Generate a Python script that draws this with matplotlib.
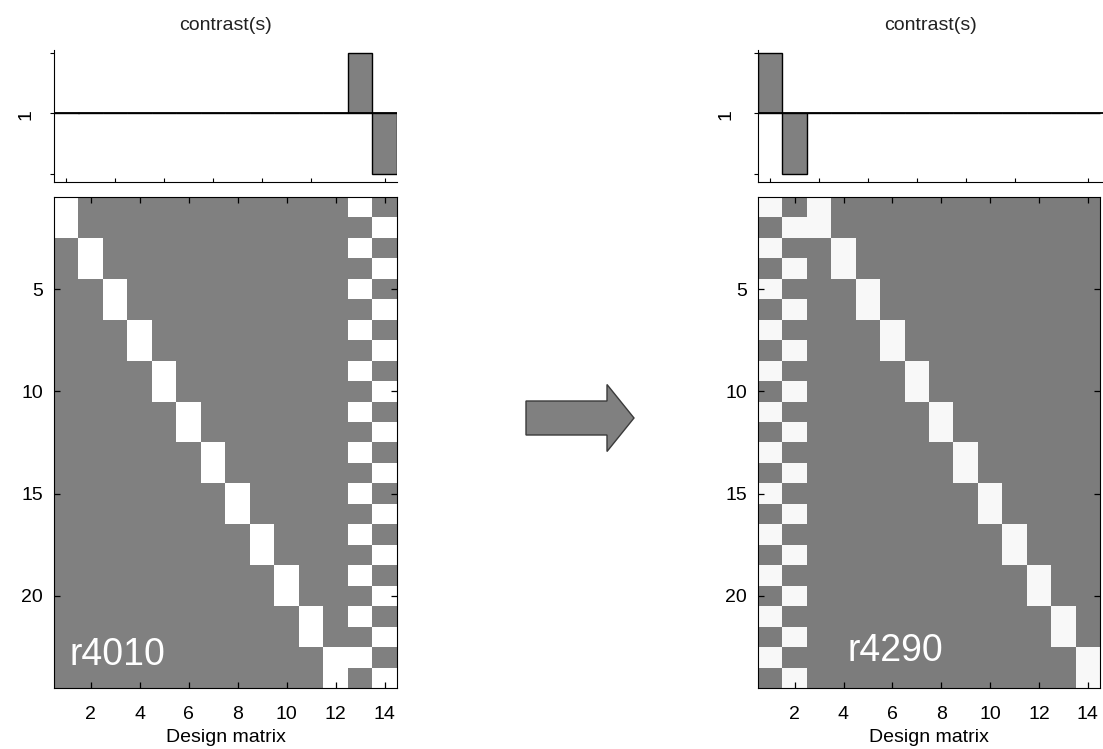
import numpy as np
import matplotlib
matplotlib.use("Agg")
import matplotlib.pyplot as plt
from matplotlib.patches import FancyArrow

plt.rcParams["font.family"] = ["Liberation Sans", "DejaVu Sans"]

# scans: 12 subjects x 2 conditions
scan_subject = [1, 1, 2, 2, 3, 3, 4, 4, 5, 5, 6, 6, 7, 7, 8, 8, 9, 9, 10, 10, 11, 11, 12, 12]
scan_condition = [1, 2] * 12
n_subjects = 12
n_conditions = 2

contrast_left = [0, 0, 0, 0, 0, 0, 0, 0, 0, 0, 0, 0, 1, -1]
contrast_right = [1, -1, 0, 0, 0, 0, 0, 0, 0, 0, 0, 0, 0, 0]

label_left = "r4010"
label_right = "r4290"

x_ticks = [2, 4, 6, 8, 10, 12, 14]
y_ticks = [5, 10, 15, 20]
contrast_xticks = [1, 3, 5, 7, 9, 11, 14]

W, H = 1103, 749


def design(subject_first):
    subj = np.zeros((len(scan_subject), n_subjects))
    cond = np.zeros((len(scan_subject), n_conditions))
    for i, (s, c) in enumerate(zip(scan_subject, scan_condition)):
        subj[i, s - 1] = 1
        cond[i, c - 1] = 1
    if subject_first:
        return np.hstack([subj, cond])
    return np.hstack([cond, subj])


def px_axes(fig, x0, y0, x1, y1):
    return fig.add_axes([x0 / W, 1 - y1 / H, (x1 - x0) / W, (y1 - y0) / H])


def draw_contrast(ax, con, xmax, ypad):
    cols = np.arange(1, len(con) + 1)
    ax.bar(cols, con, width=1.0, color="#808080", edgecolor="black", linewidth=1.0, zorder=2)
    ax.axhline(0, color="black", linewidth=1.3, zorder=3)
    ax.set_xlim(0.5, xmax)
    ax.set_ylim(-1.13, 1.08)
    for s in ("top", "right"):
        ax.spines[s].set_visible(False)
    ax.spines["left"].set_bounds(-1.13, 1.05)
    ax.set_yticks([-1, 0, 1])
    ax.set_yticklabels([])
    ax.set_xticks(contrast_xticks)
    ax.set_xticklabels([])
    ax.tick_params(axis="y", direction="out", length=3, width=0.8)
    ax.tick_params(axis="x", direction="in", length=3, width=0.8)
    ax.set_ylabel("1", rotation=90, fontsize=14, labelpad=ypad)
    ax.set_title("contrast(s)", fontsize=14, pad=13, color="#222222")


def draw_matrix(ax, mat, label, lx, ly, vmax):
    ax.imshow(mat, cmap="gray", vmin=-1, vmax=vmax, aspect="auto",
              interpolation="nearest",
              extent=(0.5, mat.shape[1] + 0.5, mat.shape[0] + 0.5, 0.5))
    ax.set_xticks(x_ticks)
    ax.set_yticks(y_ticks)
    ax.tick_params(direction="in", length=4, width=0.9, top=True, right=True,
                   labelsize=14)
    ax.tick_params(axis="x", pad=13)
    ax.tick_params(axis="y", pad=8)
    ax.set_xlabel("Design matrix", fontsize=14, labelpad=4)
    ax.text(lx, ly, label, color="white", fontsize=27, ha="left", va="baseline")


fig = plt.figure(figsize=(W / 100, H / 100), dpi=100)

# left panel
axc1 = px_axes(fig, 54, 48, 397, 182)
draw_contrast(axc1, contrast_left, 14.5, 7.5)
axm1 = px_axes(fig, 54, 197, 397, 688)
draw_matrix(axm1, design(True), label_left, 1.15, 23.4, 1.0)

# right panel
axc2 = px_axes(fig, 758, 48, 1103, 182)
draw_contrast(axc2, contrast_right, 14.62, 10.5)
axm2 = px_axes(fig, 758, 197, 1100, 688)
draw_matrix(axm2, design(False), label_right, 4.15, 23.2, 1.06)

# arrow between the panels
bg = fig.add_axes([0, 0, 1, 1], zorder=-1)
bg.set_xlim(0, W)
bg.set_ylim(H, 0)
bg.axis("off")
bg.add_patch(FancyArrow(526, 418, 108, 0, width=34, head_width=67, head_length=27,
                        length_includes_head=True, facecolor="#808080",
                        edgecolor="#3a3a3a", linewidth=1.0))

fig.savefig("out.png", dpi=100)
